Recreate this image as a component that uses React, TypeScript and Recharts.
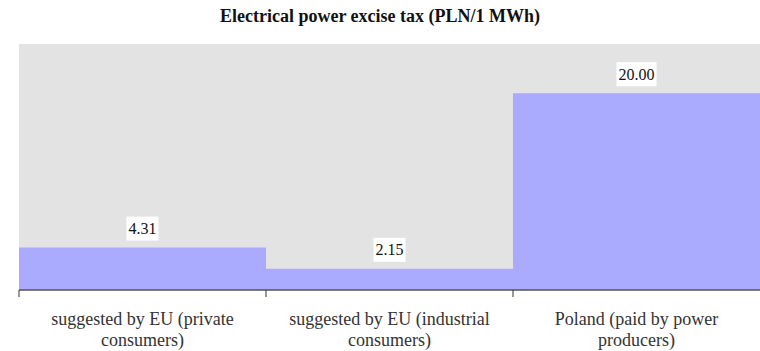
import { Bar, BarChart, CartesianGrid, LabelList, XAxis, YAxis } from 'recharts';

const categories = [
  'suggested by EU (private consumers)',
  'suggested by EU (industrial consumers)',
  'Poland (paid by power producers)',
];
const taxValues = [4.31, 2.15, 20.0];

const data = categories.map((name, i) => ({ name, value: taxValues[i] }));

const serif = "'Liberation Serif', serif";

// category names wrap onto two lines, last word goes below
const CategoryTick = (props: any) => {
  const { x, y, payload } = props;
  const band = (props.width || 741) / categories.length;
  const left = x - band / 2;
  const words = String(payload.value).split(' ');
  const last = words.pop();
  return (
    <g>
      <line x1={left} y1={y - 2} x2={left} y2={y + 5} stroke="#333" strokeWidth={1} />
      <text textAnchor="middle" fontFamily={serif} fontSize={18} fill="#333">
        <tspan x={x} y={y + 33}>{words.join(' ')}</tspan>
        <tspan x={x} y={y + 54}>{last}</tspan>
      </text>
    </g>
  );
};

const ValueLabel = (props: any) => {
  const { x, y, width, value } = props;
  const text = Number(value).toFixed(2);
  const digits = text.replace('.', '').length;
  const w = digits * 8 + 4 + 4;
  const cx = x + width / 2;
  const cy = y - 19;
  return (
    <g>
      <rect x={cx - w / 2} y={cy - 12} width={w} height={24} fill="#fff" />
      <text
        x={cx}
        y={cy}
        textAnchor="middle"
        dominantBaseline="central"
        fontFamily={serif}
        fontSize={16}
        fill="#111"
      >
        {text}
      </text>
    </g>
  );
};

export default function App() {
  return (
    <div style={{ position: 'absolute', left: 0, top: 0, width: 760, height: 351, background: '#fff', fontFamily: serif }}>
      <div
        style={{
          position: 'absolute',
          top: 6,
          left: 0,
          width: 760,
          textAlign: 'center',
          fontWeight: 'bold',
          fontSize: 18,
          color: '#111',
        }}
      >
        Electrical power excise tax (PLN/1 MWh)
      </div>
      <BarChart
        width={760}
        height={351}
        data={data}
        margin={{ top: 44, right: 0, bottom: 0, left: 19 }}
        barCategoryGap={0}
      >
        <CartesianGrid fill="#e3e3e3" stroke="none" horizontal={false} vertical={false} />
        <XAxis
          dataKey="name"
          height={61}
          interval={0}
          axisLine={{ stroke: '#555', strokeWidth: 1.5 }}
          tickLine={false}
          tickSize={0}
          tick={<CategoryTick />}
        />
        <YAxis hide domain={[0, 25]} />
        <Bar dataKey="value" fill="#aaaaff" isAnimationActive={false}>
          <LabelList dataKey="value" content={<ValueLabel />} />
        </Bar>
      </BarChart>
    </div>
  );
}
